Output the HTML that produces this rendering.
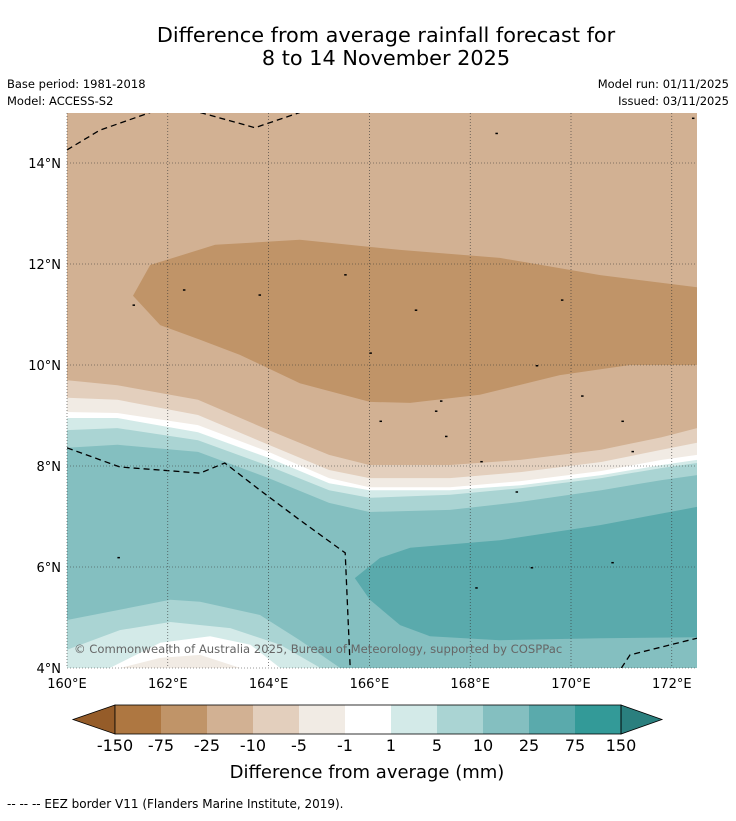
<!DOCTYPE html>
<html><head><meta charset="utf-8"><style>
body{margin:0;background:#fff;width:736px;height:816px;overflow:hidden;font-family:"Liberation Sans","DejaVu Sans",sans-serif}
svg text{font-family:"DejaVu Sans","Liberation Sans",sans-serif}
</style></head><body>
<svg id="c" width="736" height="816" xmlns="http://www.w3.org/2000/svg">
<text x="386" y="42" font-size="20.8" text-anchor="middle">Difference from average rainfall forecast for</text>
<text x="386" y="65" font-size="20.8" text-anchor="middle">8 to 14 November 2025</text>
<text x="7" y="88" font-size="11.5">Base period: 1981-2018</text>
<text x="7" y="105" font-size="11.5">Model: ACCESS-S2</text>
<text x="729" y="88" font-size="11.5" text-anchor="end">Model run: 01/11/2025</text>
<text x="729" y="105" font-size="11.5" text-anchor="end">Issued: 03/11/2025</text>
<defs><clipPath id="mc"><rect x="67" y="113" width="630" height="555"/></clipPath></defs>
<g id="map" clip-path="url(#mc)"></g>
<g id="grid"></g>
<g id="axes"></g>
<text x="74" y="653" font-size="11.6" fill="#666">© Commonwealth of Australia 2025, Bureau of Meteorology, supported by COSPPac</text>
<g id="cbar"></g>
<text x="367" y="778" font-size="18" text-anchor="middle">Difference from average (mm)</text>
<text x="7" y="808" font-size="12">--  --  -- EEZ border V11 (Flanders Marine Institute, 2019).</text>
</svg>
<script>
const lonTicks=[160,162,164,166,168,170,172];
const latTicks=[4,6,8,10,12,14];
const bandLons=[160,161,162.6,164,165.2,166,167.6,169,170.6,171.8,172.5];
const lineM10=[9.70,9.60,9.31,8.71,8.22,8.02,8.02,8.12,8.32,8.57,8.75];
const lineM5=[9.35,9.31,9.01,8.42,7.92,7.76,7.76,7.88,8.08,8.32,8.46];
const lineM1=[9.07,9.05,8.81,8.28,7.76,7.58,7.58,7.70,7.90,8.12,8.22];
const lineP1=[8.95,8.95,8.67,8.16,7.66,7.52,7.52,7.62,7.82,8.02,8.12];
const lineP5=[8.71,8.75,8.51,8.0,7.52,7.37,7.43,7.56,7.76,7.96,8.06];
const lineP10=[8.36,8.42,8.28,7.76,7.27,7.09,7.13,7.29,7.52,7.72,7.82];
const lowP5=[[160,4.95],[162.05,5.35],[162.64,5.31],[163.83,5.05],[164.62,4.55],[165.42,4.0]];
const lowP1=[[160,4.36],[161.05,4.75],[162.05,4.91],[163.24,4.79],[164.23,4.46],[165.03,4.0]];
const lowM1=[[160.85,4.0],[161.85,4.5],[162.84,4.63],[163.64,4.46],[164.23,4.0]];
const lowM5=[[161.05,4.0],[161.85,4.2],[162.64,4.26],[163.44,4.0]];
const brownBlob=[[161.31,11.37],[161.65,11.98],[162.94,12.38],[164.62,12.48],[166.61,12.28],[168.59,12.12],[170.58,11.78],[172.5,11.54],[172.5,10.0],[171.17,10.0],[169.78,9.80],[168.19,9.41],[166.81,9.25],[166.01,9.27],[164.62,9.64],[163.43,10.2],[162.64,10.5],[161.85,10.79]];
const tealBlob=[[165.71,5.78],[166.21,6.18],[166.81,6.38],[168.59,6.53],[170.58,6.83],[172.5,7.19],[172.5,4.61],[170.58,4.59],[168.59,4.55],[167.2,4.63],[166.61,4.85],[166.01,5.35]];
const eezLines=[
 [[160,14.26],[160.65,14.65],[161.65,15.0]],
 [[162.64,15.0],[163.73,14.7],[164.62,15.0]],
 [[160,8.36],[161.05,7.98],[162.64,7.86],[163.13,8.06],[163.83,7.52],[164.62,6.93],[165.52,6.28],[165.62,4.0]],
 [[171.0,4.0],[171.17,4.26],[172.5,4.59]]];
const islands=[[161.3,11.2],[162.3,11.5],[163.8,11.4],[165.5,11.8],[166.0,10.25],[166.2,8.9],[166.9,11.1],[167.4,9.3],[167.5,8.6],[168.2,8.1],[168.5,14.6],[168.9,7.5],[169.2,6.0],[169.8,11.3],[170.2,9.4],[171.0,8.9],[171.2,8.3],[168.1,5.6],[170.8,6.1],[172.4,14.9],[161.0,6.2],[167.3,9.1],[169.3,10.0]];
const cbLabels=["-150","-75","-25","-10","-5","-1","1","5","10","25","75","150"];
const cbColors=["#ae7741","#c09468","#d2b193","#e3cfbd","#f1ebe4","#ffffff","#d3eae8","#aad4d3","#84bfc0","#5aaaac","#339a98"];
const NS="http://www.w3.org/2000/svg";
const X=lon=>67+(lon-160)*50.4, Y=lat=>668-(lat-4)*50.5;
function mk(tag,attrs,parent){const e=document.createElementNS(NS,tag);for(const k in attrs)e.setAttribute(k,attrs[k]);parent.appendChild(e);return e;}
const map=document.getElementById('map');
const pts=a=>a.map(p=>X(p[0]).toFixed(1)+','+Y(p[1]).toFixed(1)).join(' ');
let bg=mk('rect',{x:67,y:113,width:630,height:555,fill:'#d2b193'},map);


let bb=mk('polygon',{points:pts(brownBlob),fill:'#c09468'},map);


const bands=[[lineM10,'#e3cfbd','band-minus10'],[lineM5,'#f1ebe4','band-minus5'],[lineM1,'#ffffff','band-minus1'],[lineP1,'#d3eae8','band-plus1'],[lineP5,'#aad4d3','band-plus5'],[lineP10,'#84bfc0','band-plus10']];
bands.forEach(b=>{const a=bandLons.map((l,i)=>[l,b[0][i]]);a.push([172.5,3.9],[160,3.9]);
 const p=mk('polygon',{points:pts(a),fill:b[1]},map);
 
 });
const lows=[[lowP5,'#aad4d3','low-band-plus5'],[lowP1,'#d3eae8','low-band-plus1'],[lowM1,'#ffffff','low-band-minus1'],[lowM5,'#f1ebe4','low-band-minus5']];
lows.forEach(b=>{const a=b[0].slice();a.push([160,3.9]);
 const p=mk('polygon',{points:pts(a),fill:b[1]},map);
 
 });
let tb=mk('polygon',{points:pts(tealBlob),fill:'#5aaaac'},map);


islands.forEach(p=>{const e=mk('rect',{x:X(p[0]),y:Y(p[1]),width:2.5,height:1.5,fill:'#000'},map);
 
 });
eezLines.forEach(l=>{const e=mk('polyline',{points:pts(l),fill:'none',stroke:'#000','stroke-width':1.3,'stroke-dasharray':'6,4'},map);
 
 });
const grid=document.getElementById('grid'), axes=document.getElementById('axes');
lonTicks.forEach(l=>{const x=X(l);
 const g=mk('line',{x1:x,x2:x,y1:113,y2:668,stroke:'#333','stroke-width':0.6,'stroke-dasharray':'1,2'},grid);
 
 
 const t=mk('text',{x:x,y:688,'font-size':13,'text-anchor':'middle'},axes);t.textContent=l+'°E';
 
 });
latTicks.forEach(l=>{const y=Y(l);
 const g=mk('line',{x1:67,x2:697,y1:y,y2:y,stroke:'#333','stroke-width':0.6,'stroke-dasharray':'1,2'},grid);
 
 
 const t=mk('text',{x:61,y:y+5,'font-size':13,'text-anchor':'end'},axes);t.textContent=l+'°N';
 
 });
const cb=document.getElementById('cbar');
const w=46,x0=115,y0=705,h=29;
let lt=mk('polygon',{points:`${x0},${y0} 73,${y0+h/2} ${x0},${y0+h}`,fill:'#955c29',stroke:'#000','stroke-width':0.8},cb);


cbColors.forEach((c,i)=>{const r=mk('rect',{x:x0+i*w,y:y0,width:w,height:h,fill:c},cb);
 
 });
const xe=x0+cbColors.length*w;
let rt=mk('polygon',{points:`${xe},${y0} 662,${y0+h/2} ${xe},${y0+h}`,fill:'#2a7f7e',stroke:'#000','stroke-width':0.8},cb);


mk('rect',{x:x0,y:y0,width:xe-x0,height:h,fill:'none',stroke:'#000','stroke-width':0.8},cb);
cbLabels.forEach((s,i)=>{const t=mk('text',{x:x0+i*w,y:751,'font-size':16,'text-anchor':'middle'},cb);t.textContent=s;
 
 });
</script>
</body></html>
